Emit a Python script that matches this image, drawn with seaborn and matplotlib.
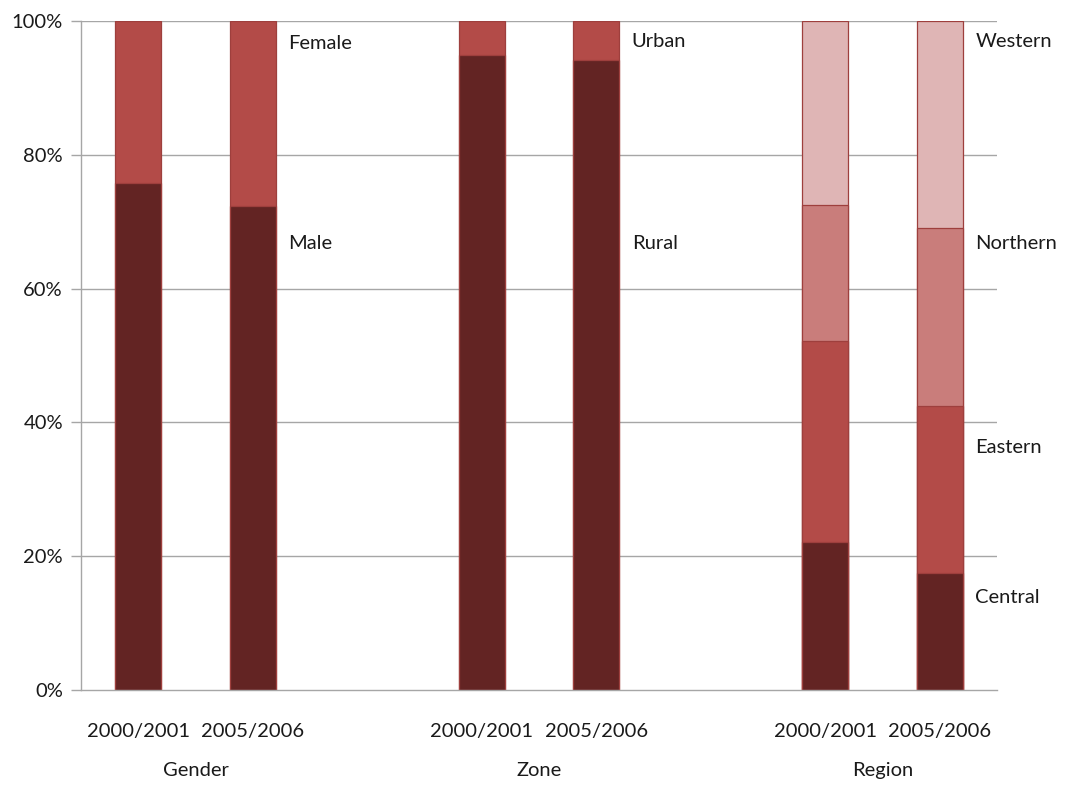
import matplotlib
matplotlib.use("Agg")
import matplotlib.pyplot as plt
import matplotlib.transforms as mtransforms
import numpy as np
import pandas as pd
import seaborn as sns

# Bar positions (two survey years per group, with a gap between groups)
positions = [0, 1, 3, 4, 6, 7]
years = ["2000/2001", "2005/2006", "2000/2001", "2005/2006", "2000/2001", "2005/2006"]
groups = ["Gender", "Zone", "Region"]
group_centers = [0.5, 3.5, 6.5]

# Shares (%) per segment, bottom to top
gender_segments = ["Male", "Female"]
gender_male = [75.8, 72.3]
gender_female = [24.2, 27.7]

zone_segments = ["Rural", "Urban"]
zone_rural = [94.9, 94.2]
zone_urban = [5.1, 5.8]

region_segments = ["Central", "Eastern", "Northern", "Western"]
region_central = [22.1, 17.5]
region_eastern = [30.1, 25.0]
region_northern = [20.3, 26.6]
region_western = [27.5, 30.9]

# Segment label heights (%) next to the second bar of each group
label_y = {
    "Female": 96.7, "Male": 66.8,
    "Urban": 97.0, "Rural": 66.8,
    "Western": 96.9, "Northern": 66.8, "Eastern": 36.3, "Central": 13.8,
}

colors = ["#632423", "#B34B48", "#C97D7B", "#DFB5B5"]
text_color = "#1A1A1A"
fs = 14.5

rows = []
def add(pos_pair, seg_names, seg_values):
    for bi, p in enumerate(pos_pair):
        cum = 0.0
        for li, (name, vals) in enumerate(zip(seg_names, seg_values)):
            cum += vals[bi]
            rows.append(dict(pos=p, segment=name, level=li, top=cum))

add(positions[0:2], gender_segments, [gender_male, gender_female])
add(positions[2:4], zone_segments, [zone_rural, zone_urban])
add(positions[4:6], region_segments, [region_central, region_eastern, region_northern, region_western])
df = pd.DataFrame(rows)

sns.set_style("white")
plt.rcParams["font.family"] = ["Lato", "DejaVu Sans"]

fig = plt.figure(figsize=(10.68, 7.85), dpi=100)
ax = fig.add_axes([0.0758, 0.121, 0.8577, 0.852])

grid_color = "#A6A6A6"
for y in [20, 40, 60, 80, 100]:
    ax.axhline(y, color=grid_color, lw=1, zorder=0)

# Draw cumulative tops from the highest level down so lower segments overlay
for level in sorted(df["level"].unique(), reverse=True):
    sub = df[df["level"] == level]
    sns.barplot(data=sub, x="pos", y="top", native_scale=True, width=0.4,
                color=colors[level], saturation=1, edgecolor="#9E3F3D",
                linewidth=0.9, ax=ax, zorder=2, errorbar=None)

ax.set_xlim(-0.5, 7.5)
ax.set_ylim(0, 100)
ax.set_yticks([0, 20, 40, 60, 80, 100])
ax.set_yticklabels([f"{v}%" for v in [0, 20, 40, 60, 80, 100]], fontsize=fs, color=text_color)
ax.set_xticks(positions)
ax.set_xticklabels(years, fontsize=fs, color=text_color)
ax.tick_params(axis="x", length=0, pad=24)
ax.tick_params(axis="y", length=7, color=grid_color, width=1, left=True, pad=6)
ax.set_xlabel("")
ax.set_ylabel("")

for side in ["top", "right"]:
    ax.spines[side].set_visible(False)
for side in ["left", "bottom"]:
    ax.spines[side].set_color(grid_color)
    ax.spines[side].set_linewidth(1)

# Segment names beside the second bar of each group
label_x = {"Gender": 1.31, "Zone": 4.31, "Region": 7.31}
for name in gender_segments:
    ax.text(label_x["Gender"], label_y[name], name, fontsize=fs, va="center", ha="left", color=text_color)
for name in zone_segments:
    ax.text(label_x["Zone"], label_y[name], name, fontsize=fs, va="center", ha="left", color=text_color)
for name in region_segments:
    ax.text(label_x["Region"], label_y[name], name, fontsize=fs, va="center", ha="left", color=text_color)

# Group names under the year labels
trans = mtransforms.blended_transform_factory(ax.transData, ax.transAxes)
for g, cx in zip(groups, group_centers):
    ax.text(cx, -0.12, g, transform=trans, fontsize=fs, ha="center", va="center", color=text_color)

fig.savefig("out.png", dpi=100)
